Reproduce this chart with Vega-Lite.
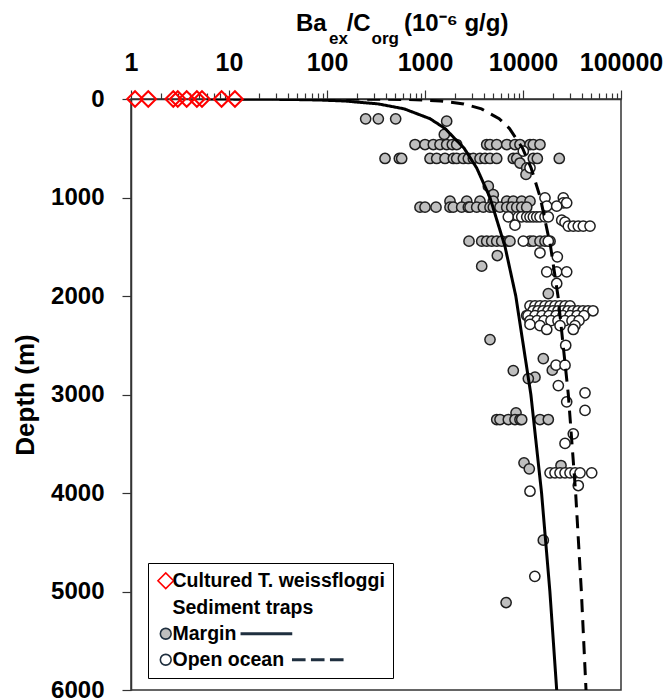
{
  "$schema": "https://vega.github.io/schema/vega-lite/v6.json",
  "width": 490,
  "height": 591,
  "autosize": {"type": "none"},
  "padding": {"left": 131, "top": 99, "right": 45, "bottom": 9},
  "background": "white",
  "config": {
    "font": "Liberation Sans",
    "view": {"stroke": "#333333", "strokeWidth": 1.5},
    "axis": {
      "domainColor": "#333333", "domainWidth": 1.5, "tickColor": "#333333", "tickWidth": 1.2,
      "labelFont": "Liberation Sans", "labelFontSize": 24, "labelFontWeight": "bold", "labelColor": "black",
      "grid": false, "titleFont": "Liberation Sans", "titleFontWeight": "bold", "titleColor": "black"
    }
  },
  "title": {
    "text": "Ba\u00a0\u00a0\u00a0/C\u00a0\u00a0\u00a0\u00a0\u00a0(10\u207b\u2076 g/g)",
    "subtitle": "\u200b\u00a0\u00a0\u00a0\u00a0\u00a0\u00a0\u00a0ex\u00a0\u00a0\u00a0\u00a0\u00a0org",
    "anchor": "start", "frame": "group", "dx": 165, "offset": 3,
    "font": "Liberation Sans", "fontSize": 24, "fontWeight": "bold", "color": "black",
    "subtitleFont": "Liberation Sans", "subtitleFontSize": 17, "subtitleFontWeight": "bold", "subtitleColor": "black",
    "subtitlePadding": -5
  },
  "datasets": {
    "pts": [
      {"group": "Margin", "depth": 201, "ratio": 248}, {"group": "Margin", "depth": 201, "ratio": 334}, {"group": "Margin", "depth": 201, "ratio": 502},
      {"group": "Margin", "depth": 225, "ratio": 1664}, {"group": "Margin", "depth": 360, "ratio": 1574},
      {"group": "Margin", "depth": 462, "ratio": 791}, {"group": "Margin", "depth": 462, "ratio": 1000}, {"group": "Margin", "depth": 462, "ratio": 1216}, {"group": "Margin", "depth": 462, "ratio": 1422}, {"group": "Margin", "depth": 462, "ratio": 1664}, {"group": "Margin", "depth": 462, "ratio": 1900}, {"group": "Margin", "depth": 462, "ratio": 2106}, {"group": "Margin", "depth": 462, "ratio": 4262}, {"group": "Margin", "depth": 462, "ratio": 4606}, {"group": "Margin", "depth": 462, "ratio": 5395}, {"group": "Margin", "depth": 462, "ratio": 6823}, {"group": "Margin", "depth": 462, "ratio": 8284}, {"group": "Margin", "depth": 462, "ratio": 9311}, {"group": "Margin", "depth": 462, "ratio": 11784}, {"group": "Margin", "depth": 462, "ratio": 12740}, {"group": "Margin", "depth": 462, "ratio": 14900},
      {"group": "Margin", "depth": 604, "ratio": 391}, {"group": "Margin", "depth": 604, "ratio": 547}, {"group": "Margin", "depth": 604, "ratio": 578}, {"group": "Margin", "depth": 604, "ratio": 1125}, {"group": "Margin", "depth": 604, "ratio": 1316}, {"group": "Margin", "depth": 604, "ratio": 1600}, {"group": "Margin", "depth": 604, "ratio": 1945}, {"group": "Margin", "depth": 604, "ratio": 2106}, {"group": "Margin", "depth": 604, "ratio": 2460}, {"group": "Margin", "depth": 604, "ratio": 2767}, {"group": "Margin", "depth": 604, "ratio": 3112}, {"group": "Margin", "depth": 604, "ratio": 3640}, {"group": "Margin", "depth": 604, "ratio": 4095}, {"group": "Margin", "depth": 604, "ratio": 4606}, {"group": "Margin", "depth": 604, "ratio": 5395}, {"group": "Margin", "depth": 604, "ratio": 7960}, {"group": "Margin", "depth": 604, "ratio": 8630}, {"group": "Margin", "depth": 604, "ratio": 12740}, {"group": "Margin", "depth": 604, "ratio": 14000}, {"group": "Margin", "depth": 604, "ratio": 23450},
      {"group": "Margin", "depth": 650, "ratio": 9311}, {"group": "Margin", "depth": 700, "ratio": 10910}, {"group": "Margin", "depth": 766, "ratio": 10730}, {"group": "Margin", "depth": 885, "ratio": 4426}, {"group": "Margin", "depth": 970, "ratio": 4977},
      {"group": "Margin", "depth": 1037, "ratio": 1799}, {"group": "Margin", "depth": 1037, "ratio": 2666}, {"group": "Margin", "depth": 1037, "ratio": 3640}, {"group": "Margin", "depth": 1037, "ratio": 4977}, {"group": "Margin", "depth": 1037, "ratio": 6823}, {"group": "Margin", "depth": 1037, "ratio": 7960}, {"group": "Margin", "depth": 1037, "ratio": 9701}, {"group": "Margin", "depth": 1037, "ratio": 11784},
      {"group": "Margin", "depth": 1098, "ratio": 889}, {"group": "Margin", "depth": 1098, "ratio": 1000}, {"group": "Margin", "depth": 1098, "ratio": 1295}, {"group": "Margin", "depth": 1098, "ratio": 1799}, {"group": "Margin", "depth": 1098, "ratio": 1945}, {"group": "Margin", "depth": 1098, "ratio": 2367}, {"group": "Margin", "depth": 1098, "ratio": 2767}, {"group": "Margin", "depth": 1098, "ratio": 2877}, {"group": "Margin", "depth": 1098, "ratio": 3368}, {"group": "Margin", "depth": 1098, "ratio": 3937}, {"group": "Margin", "depth": 1098, "ratio": 4606}, {"group": "Margin", "depth": 1098, "ratio": 4977}, {"group": "Margin", "depth": 1098, "ratio": 5823}, {"group": "Margin", "depth": 1098, "ratio": 6823}, {"group": "Margin", "depth": 1098, "ratio": 7674}, {"group": "Margin", "depth": 1098, "ratio": 8630}, {"group": "Margin", "depth": 1098, "ratio": 9701}, {"group": "Margin", "depth": 1098, "ratio": 10910},
      {"group": "Margin", "depth": 1443, "ratio": 2812}, {"group": "Margin", "depth": 1443, "ratio": 3790}, {"group": "Margin", "depth": 1443, "ratio": 4262}, {"group": "Margin", "depth": 1443, "ratio": 4796}, {"group": "Margin", "depth": 1443, "ratio": 5395}, {"group": "Margin", "depth": 1443, "ratio": 6067}, {"group": "Margin", "depth": 1443, "ratio": 7080}, {"group": "Margin", "depth": 1443, "ratio": 7362}, {"group": "Margin", "depth": 1443, "ratio": 11784}, {"group": "Margin", "depth": 1443, "ratio": 12740}, {"group": "Margin", "depth": 1443, "ratio": 14900}, {"group": "Margin", "depth": 1443, "ratio": 16760}, {"group": "Margin", "depth": 1443, "ratio": 18880},
      {"group": "Margin", "depth": 1589, "ratio": 5470}, {"group": "Margin", "depth": 1697, "ratio": 3790}, {"group": "Margin", "depth": 1975, "ratio": 18120}, {"group": "Margin", "depth": 2442, "ratio": 4606}, {"group": "Margin", "depth": 2635, "ratio": 16110}, {"group": "Margin", "depth": 2753, "ratio": 19900}, {"group": "Margin", "depth": 2757, "ratio": 7960}, {"group": "Margin", "depth": 2824, "ratio": 13250}, {"group": "Margin", "depth": 2838, "ratio": 11330}, {"group": "Margin", "depth": 3186, "ratio": 8490},
      {"group": "Margin", "depth": 3254, "ratio": 5395}, {"group": "Margin", "depth": 3254, "ratio": 5823}, {"group": "Margin", "depth": 3254, "ratio": 7080}, {"group": "Margin", "depth": 3254, "ratio": 8284}, {"group": "Margin", "depth": 3254, "ratio": 9311}, {"group": "Margin", "depth": 3254, "ratio": 9701}, {"group": "Margin", "depth": 3254, "ratio": 14900}, {"group": "Margin", "depth": 3254, "ratio": 18120},
      {"group": "Margin", "depth": 3694, "ratio": 10240}, {"group": "Margin", "depth": 3721, "ratio": 24420}, {"group": "Margin", "depth": 3755, "ratio": 11590}, {"group": "Margin", "depth": 4479, "ratio": 16110}, {"group": "Margin", "depth": 5112, "ratio": 6725},
      {"group": "Open ocean", "depth": 530, "ratio": 10070}, {"group": "Open ocean", "depth": 698, "ratio": 11784}, {"group": "Open ocean", "depth": 1003, "ratio": 16760}, {"group": "Open ocean", "depth": 1003, "ratio": 25780}, {"group": "Open ocean", "depth": 1054, "ratio": 25780}, {"group": "Open ocean", "depth": 1054, "ratio": 27920}, {"group": "Open ocean", "depth": 1088, "ratio": 17470}, {"group": "Open ocean", "depth": 1088, "ratio": 22080},
      {"group": "Open ocean", "depth": 1196, "ratio": 7080}, {"group": "Open ocean", "depth": 1196, "ratio": 8950}, {"group": "Open ocean", "depth": 1196, "ratio": 9701}, {"group": "Open ocean", "depth": 1196, "ratio": 10910}, {"group": "Open ocean", "depth": 1196, "ratio": 11784}, {"group": "Open ocean", "depth": 1196, "ratio": 12740}, {"group": "Open ocean", "depth": 1196, "ratio": 13800}, {"group": "Open ocean", "depth": 1196, "ratio": 14900}, {"group": "Open ocean", "depth": 1196, "ratio": 16760}, {"group": "Open ocean", "depth": 1196, "ratio": 18120},
      {"group": "Open ocean", "depth": 1230, "ratio": 24830}, {"group": "Open ocean", "depth": 1250, "ratio": 26840}, {"group": "Open ocean", "depth": 1281, "ratio": 8284}, {"group": "Open ocean", "depth": 1290, "ratio": 28980}, {"group": "Open ocean", "depth": 1290, "ratio": 32590}, {"group": "Open ocean", "depth": 1290, "ratio": 36650}, {"group": "Open ocean", "depth": 1290, "ratio": 41220}, {"group": "Open ocean", "depth": 1290, "ratio": 48290},
      {"group": "Open ocean", "depth": 1443, "ratio": 10070}, {"group": "Open ocean", "depth": 1443, "ratio": 18120}, {"group": "Open ocean", "depth": 1561, "ratio": 14900}, {"group": "Open ocean", "depth": 1602, "ratio": 22390}, {"group": "Open ocean", "depth": 1755, "ratio": 17470}, {"group": "Open ocean", "depth": 1755, "ratio": 22080}, {"group": "Open ocean", "depth": 1755, "ratio": 27920}, {"group": "Open ocean", "depth": 1873, "ratio": 22080},
      {"group": "Open ocean", "depth": 2100, "ratio": 11784}, {"group": "Open ocean", "depth": 2100, "ratio": 13250}, {"group": "Open ocean", "depth": 2100, "ratio": 14900}, {"group": "Open ocean", "depth": 2100, "ratio": 16760}, {"group": "Open ocean", "depth": 2100, "ratio": 18880}, {"group": "Open ocean", "depth": 2100, "ratio": 21210}, {"group": "Open ocean", "depth": 2100, "ratio": 23860}, {"group": "Open ocean", "depth": 2100, "ratio": 26840}, {"group": "Open ocean", "depth": 2100, "ratio": 30180},
      {"group": "Open ocean", "depth": 2150, "ratio": 12650}, {"group": "Open ocean", "depth": 2150, "ratio": 14220}, {"group": "Open ocean", "depth": 2150, "ratio": 16000}, {"group": "Open ocean", "depth": 2150, "ratio": 17990}, {"group": "Open ocean", "depth": 2150, "ratio": 20230}, {"group": "Open ocean", "depth": 2150, "ratio": 22760}, {"group": "Open ocean", "depth": 2150, "ratio": 25590}, {"group": "Open ocean", "depth": 2150, "ratio": 28780}, {"group": "Open ocean", "depth": 2150, "ratio": 32370}, {"group": "Open ocean", "depth": 2150, "ratio": 36400}, {"group": "Open ocean", "depth": 2150, "ratio": 40940}, {"group": "Open ocean", "depth": 2150, "ratio": 46040}, {"group": "Open ocean", "depth": 2150, "ratio": 51780},
      {"group": "Open ocean", "depth": 2198, "ratio": 10910},
      {"group": "Open ocean", "depth": 2200, "ratio": 11250}, {"group": "Open ocean", "depth": 2200, "ratio": 13250}, {"group": "Open ocean", "depth": 2200, "ratio": 15630}, {"group": "Open ocean", "depth": 2200, "ratio": 18420}, {"group": "Open ocean", "depth": 2200, "ratio": 21720}, {"group": "Open ocean", "depth": 2200, "ratio": 25590}, {"group": "Open ocean", "depth": 2200, "ratio": 30180}, {"group": "Open ocean", "depth": 2200, "ratio": 35560}, {"group": "Open ocean", "depth": 2200, "ratio": 41900},
      {"group": "Open ocean", "depth": 2250, "ratio": 11784}, {"group": "Open ocean", "depth": 2250, "ratio": 13900}, {"group": "Open ocean", "depth": 2250, "ratio": 16370}, {"group": "Open ocean", "depth": 2250, "ratio": 19300}, {"group": "Open ocean", "depth": 2250, "ratio": 22760}, {"group": "Open ocean", "depth": 2250, "ratio": 26840}, {"group": "Open ocean", "depth": 2250, "ratio": 31620}, {"group": "Open ocean", "depth": 2250, "ratio": 37250},
      {"group": "Open ocean", "depth": 2289, "ratio": 11784}, {"group": "Open ocean", "depth": 2300, "ratio": 14900}, {"group": "Open ocean", "depth": 2300, "ratio": 23860}, {"group": "Open ocean", "depth": 2300, "ratio": 33960}, {"group": "Open ocean", "depth": 2340, "ratio": 17470}, {"group": "Open ocean", "depth": 2340, "ratio": 32590},
      {"group": "Open ocean", "depth": 2500, "ratio": 27280}, {"group": "Open ocean", "depth": 2702, "ratio": 21720}, {"group": "Open ocean", "depth": 2702, "ratio": 26840}, {"group": "Open ocean", "depth": 2909, "ratio": 22930}, {"group": "Open ocean", "depth": 2983, "ratio": 42930}, {"group": "Open ocean", "depth": 3074, "ratio": 27920}, {"group": "Open ocean", "depth": 3162, "ratio": 42930}, {"group": "Open ocean", "depth": 3399, "ratio": 32590}, {"group": "Open ocean", "depth": 3497, "ratio": 26840},
      {"group": "Open ocean", "depth": 3795, "ratio": 18880}, {"group": "Open ocean", "depth": 3795, "ratio": 21210}, {"group": "Open ocean", "depth": 3795, "ratio": 23860}, {"group": "Open ocean", "depth": 3795, "ratio": 26840}, {"group": "Open ocean", "depth": 3795, "ratio": 30180}, {"group": "Open ocean", "depth": 3795, "ratio": 33960}, {"group": "Open ocean", "depth": 3795, "ratio": 38180}, {"group": "Open ocean", "depth": 3795, "ratio": 50240},
      {"group": "Open ocean", "depth": 3924, "ratio": 36650}, {"group": "Open ocean", "depth": 3982, "ratio": 11784}, {"group": "Open ocean", "depth": 4846, "ratio": 13200},
      {"group": "Cultured", "depth": 0, "ratio": 1.1}, {"group": "Cultured", "depth": 0, "ratio": 1.5}, {"group": "Cultured", "depth": 0, "ratio": 2.7}, {"group": "Cultured", "depth": 0, "ratio": 3.0}, {"group": "Cultured", "depth": 0, "ratio": 3.7}, {"group": "Cultured", "depth": 0, "ratio": 4.7}, {"group": "Cultured", "depth": 0, "ratio": 5.3}, {"group": "Cultured", "depth": 0, "ratio": 8.4}, {"group": "Cultured", "depth": 0, "ratio": 11.5}
    ],
    "curves": [
      {"model": "Margin", "depth": 0.5, "ratio": 5.95}, {"model": "Margin", "depth": 2, "ratio": 20.0}, {"model": "Margin", "depth": 5, "ratio": 44.6}, {"model": "Margin", "depth": 10, "ratio": 81.8}, {"model": "Margin", "depth": 20, "ratio": 150}, {"model": "Margin", "depth": 50, "ratio": 334}, {"model": "Margin", "depth": 100, "ratio": 613}, {"model": "Margin", "depth": 200, "ratio": 1125}, {"model": "Margin", "depth": 300, "ratio": 1604}, {"model": "Margin", "depth": 500, "ratio": 2508}, {"model": "Margin", "depth": 700, "ratio": 3368}, {"model": "Margin", "depth": 1000, "ratio": 4600}, {"model": "Margin", "depth": 1500, "ratio": 6560}, {"model": "Margin", "depth": 2000, "ratio": 8440}, {"model": "Margin", "depth": 3000, "ratio": 12030}, {"model": "Margin", "depth": 4000, "ratio": 15470}, {"model": "Margin", "depth": 5000, "ratio": 18810}, {"model": "Margin", "depth": 6000, "ratio": 22070},
      {"model": "Open ocean", "depth": 0.5, "ratio": 157}, {"model": "Open ocean", "depth": 2, "ratio": 360}, {"model": "Open ocean", "depth": 5, "ratio": 624}, {"model": "Open ocean", "depth": 10, "ratio": 946}, {"model": "Open ocean", "depth": 20, "ratio": 1435}, {"model": "Open ocean", "depth": 50, "ratio": 2486}, {"model": "Open ocean", "depth": 100, "ratio": 3769}, {"model": "Open ocean", "depth": 200, "ratio": 5710}, {"model": "Open ocean", "depth": 300, "ratio": 7284}, {"model": "Open ocean", "depth": 500, "ratio": 9897}, {"model": "Open ocean", "depth": 700, "ratio": 12110}, {"model": "Open ocean", "depth": 1000, "ratio": 15000}, {"model": "Open ocean", "depth": 1500, "ratio": 19130}, {"model": "Open ocean", "depth": 2000, "ratio": 22740}, {"model": "Open ocean", "depth": 3000, "ratio": 29000}, {"model": "Open ocean", "depth": 4000, "ratio": 34460}, {"model": "Open ocean", "depth": 5000, "ratio": 39400}, {"model": "Open ocean", "depth": 6000, "ratio": 43960}
    ],
    "keys": [
      {"series": "Cultured T. weissfloggi"}, {"series": "Sediment traps"}, {"series": "Margin"}, {"series": "Open ocean"}
    ]
  },
  "encoding": {
    "x": {
      "field": "ratio", "type": "quantitative",
      "scale": {"type": "log", "domain": [1, 100000], "nice": false},
      "axis": {
        "orient": "top", "title": null,
        "values": [1,2,3,4,5,6,7,8,9,10,20,30,40,50,60,70,80,90,100,200,300,400,500,600,700,800,900,1000,2000,3000,4000,5000,6000,7000,8000,9000,10000,20000,30000,40000,50000,60000,70000,80000,90000,100000],
        "labelExpr": "indexof([1,10,100,1000,10000,100000], datum.value) >= 0 ? '' + datum.value : ''",
        "labelFlush": false, "labelOverlap": false, "labelBound": false,
        "tickSize": {"condition": {"test": "indexof([1,10,100,1000,10000,100000], datum.value) >= 0", "value": 9}, "value": 6},
        "labelPadding": 15, "labelFontSize": 25
      }
    },
    "y": {
      "field": "depth", "type": "quantitative",
      "scale": {"domain": [0, 6000], "reverse": true, "nice": false},
      "axis": {
        "values": [0,1000,2000,3000,4000,5000,6000], "format": "d", "tickSize": 9, "labelPadding": 18,
        "title": "Depth (m)", "titleFontSize": 26, "titlePadding": 12
      }
    }
  },
  "layer": [
    {
      "data": {"name": "pts"},
      "transform": [{"filter": "datum.group === 'Margin'"}],
      "mark": {"type": "point", "shape": "circle", "size": 105, "filled": true, "fill": "#bfbfbf", "stroke": "#1f1f1f", "strokeWidth": 1.5, "opacity": 1}
    },
    {
      "data": {"name": "pts"},
      "transform": [{"filter": "datum.group === 'Open ocean'"}],
      "mark": {"type": "point", "shape": "circle", "size": 105, "filled": true, "fill": "white", "stroke": "#1f1f1f", "strokeWidth": 1.5, "opacity": 1}
    },
    {
      "data": {"name": "curves"},
      "mark": {"type": "line", "color": "black", "strokeWidth": 3, "clip": true},
      "encoding": {
        "order": {"field": "depth", "type": "quantitative"},
        "strokeDash": {"field": "model", "type": "nominal", "scale": {"domain": ["Margin", "Open ocean"], "range": [[1, 0], [13, 8]]}, "legend": null}
      }
    },
    {
      "data": {"name": "pts"},
      "transform": [{"filter": "datum.group === 'Cultured'"}],
      "mark": {"type": "point", "shape": "diamond", "size": 245, "filled": false, "stroke": "#ff0000", "strokeWidth": 2, "opacity": 1}
    },
    {
      "data": {"name": "keys"},
      "transform": [{"filter": "false"}],
      "mark": {"type": "point", "filled": true, "opacity": 1, "strokeWidth": 1.6},
      "encoding": {
        "x": {"value": 0}, "y": {"value": 0},
        "shape": {
          "field": "series", "type": "nominal",
          "scale": {
            "domain": ["Cultured T. weissfloggi", "Sediment traps", "Margin", "Open ocean"],
            "range": [
              "M-1.3,0L0,-1.3L1.3,0L0,1.3Z",
              "M0,0Z",
              "M0.9,0A0.9,0.9,0,1,1,-0.9,0A0.9,0.9,0,1,1,0.9,0ZM12.6,-0.12L20.95,-0.12L20.95,0.12L12.6,0.12Z",
              "M0.9,0A0.9,0.9,0,1,1,-0.9,0A0.9,0.9,0,1,1,0.9,0ZM21.17,-0.12L23.17,-0.12L23.17,0.12L21.17,0.12ZM24.33,-0.12L26.33,-0.12L26.33,0.12L24.33,0.12ZM27.5,-0.12L29.5,-0.12L29.5,0.12L27.5,0.12Z"
            ]
          },
          "legend": {
            "title": null, "orient": "none", "legendX": 17, "legendY": 464,
            "padding": 8, "strokeColor": "black", "fillColor": "white",
            "symbolSize": 144, "symbolStrokeWidth": 1.6, "symbolOpacity": 1,
            "labelFont": "Liberation Sans", "labelFontSize": 19.5, "labelFontWeight": "bold", "labelColor": "black",
            "labelOffset": -3, "rowPadding": 5, "labelLimit": 400,
            "encode": {
              "legend": {"update": {"strokeWidth": {"value": 2}}},
              "labels": {"update": {"dx": {"signal": "datum.label === 'Sediment traps' ? -12 : 0"}}}
            }
          }
        },
        "fill": {
          "field": "series", "type": "nominal",
          "scale": {"domain": ["Cultured T. weissfloggi", "Sediment traps", "Margin", "Open ocean"], "range": ["transparent", "transparent", "#bfbfbf", "white"]},
          "legend": {"title": null}
        },
        "stroke": {
          "field": "series", "type": "nominal",
          "scale": {"domain": ["Cultured T. weissfloggi", "Sediment traps", "Margin", "Open ocean"], "range": ["#ff0000", "transparent", "#1f2f3f", "#1f2f3f"]},
          "legend": {"title": null}
        }
      }
    }
  ]
}
